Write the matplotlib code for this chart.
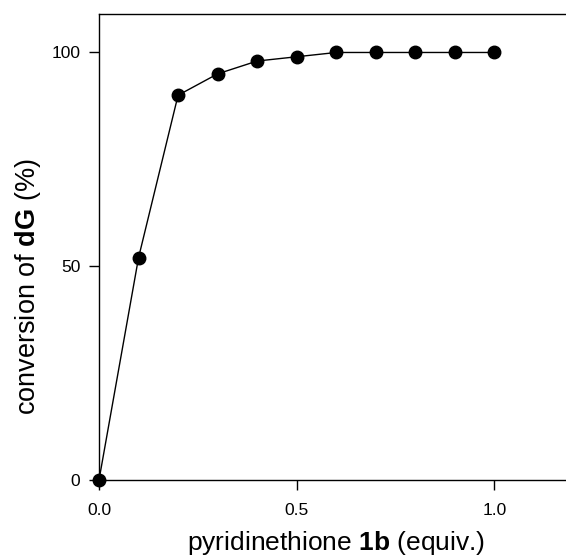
import matplotlib
matplotlib.use("Agg")
import matplotlib.pyplot as plt

plt.rcParams['font.family'] = ['Liberation Sans', 'DejaVu Sans']
plt.rcParams['mathtext.fontset'] = 'custom'
plt.rcParams['mathtext.rm'] = 'Liberation Sans'
plt.rcParams['mathtext.bf'] = 'Liberation Sans:bold'

# pyridinethione equivalents vs. conversion of dG
equiv = [0.0, 0.1, 0.2, 0.3, 0.4, 0.5, 0.6, 0.7, 0.8, 0.9, 1.0]
conversion = [0, 52, 90, 95, 98, 99, 100, 100, 100, 100, 100]

xticks = [0.0, 0.5, 1.0]
xtick_labels = ['0.0', '0.5', '1.0']
yticks = [0, 50, 100]

W, H = 566, 556
fig = plt.figure(figsize=(W / 100, H / 100), dpi=100)
ax = fig.add_axes([99 / W, 76 / H, 467 / W, 466 / H])

ax.plot(equiv, conversion, color='black', linewidth=1.0, marker='o',
        markersize=9, markerfacecolor='black', markeredgecolor='black',
        clip_on=False, zorder=3)

ax.set_xlim(0, 1.181)
ax.set_ylim(0, 109)
ax.set_xticks(xticks)
ax.set_xticklabels(xtick_labels)
ax.set_yticks(yticks)

ax.spines['right'].set_visible(False)
for s in ['left', 'top', 'bottom']:
    ax.spines[s].set_linewidth(1.0)
ax.tick_params(direction='out', length=7.5, width=1.0, labelsize=12.5)
ax.tick_params(axis='x', pad=9)
ax.tick_params(axis='y', pad=6)

# axis titles placed in figure pixels
fig.text(336 / W, 6 / H, r'pyridinethione $\mathbf{1b}$ (equiv.)',
         fontsize=19, ha='center', va='baseline')
fig.text(28 / W, (H - 287) / H, r'conversion of $\mathbf{dG}$ (%)',
         fontsize=19.5, ha='center', va='center', rotation=90)

plt.savefig('out.png', dpi=100)
